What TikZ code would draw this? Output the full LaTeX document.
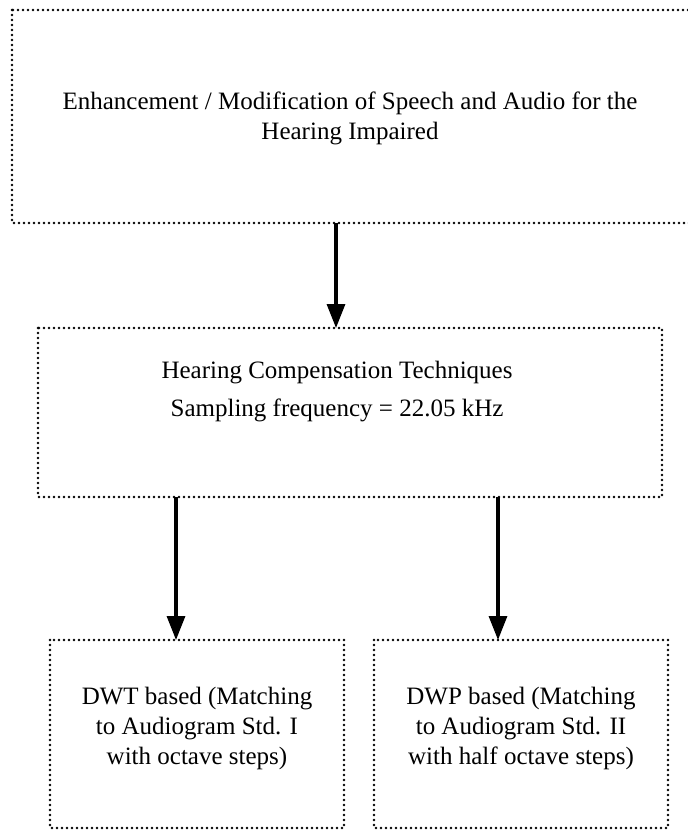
\documentclass[tikz,border=0pt]{standalone}
\usepackage{fontspec}
\setmainfont{Liberation Serif}
\usetikzlibrary{arrows.meta}
\tikzset{
  dotbox/.style={draw, line width=2.6pt, dash pattern=on 0pt off 5pt, line cap=round},
  txt/.style={align=center, font=\fontsize{25}{30}\selectfont},
  arr/.style={line width=3.2pt, -{Triangle[length=24pt,width=18pt]}}
}
\begin{document}
\begin{tikzpicture}[x=1pt,y=-1pt]
\useasboundingbox (0,0) rectangle (688,830);
\draw[dotbox] (12,10) rectangle (692,223);
\node[txt] (top) at (350,118) {Enhancement / Modification of Speech and Audio for the\\Hearing Impaired};
\coordinate (tb) at (336,223);
\draw[dotbox] (38,328) rectangle (662,497);
\node[txt, font=\fontsize{25}{38}\selectfont] (mid) at (337,392) {Hearing Compensation Techniques\\Sampling frequency = 22.05 kHz};
\coordinate (mt) at (336,328);
\coordinate (mbl) at (176,497);
\coordinate (mbr) at (498,497);
\draw[dotbox] (50,640) rectangle (344,828);
\draw[dotbox] (374,640) rectangle (668,828);
\node[txt, font=\fontsize{25}{30}\selectfont] (bl) at (197,728) {DWT based (Matching\\to Audiogram Std. I\\with octave steps)};
\node[txt, font=\fontsize{25}{30}\selectfont] (br) at (521,728) {DWP based (Matching\\to Audiogram Std. II\\with half octave steps)};
\coordinate (blt) at (176,640);
\coordinate (brt) at (498,640);
\draw[arr] (tb) -- (mt);
\draw[arr] (mbl) -- (blt);
\draw[arr] (mbr) -- (brt);
\end{tikzpicture}
\end{document}
